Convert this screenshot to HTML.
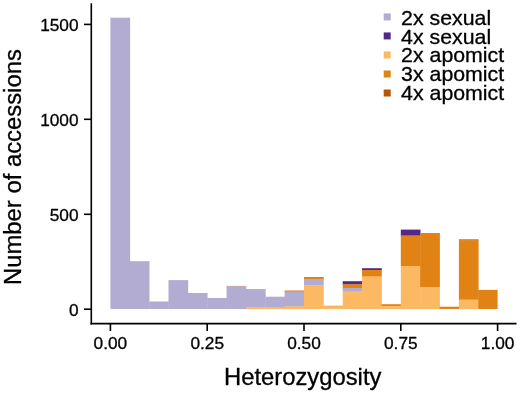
<!DOCTYPE html>
<html><head><meta charset="utf-8"><title>Heterozygosity histogram</title>
<style>
html,body{margin:0;padding:0;background:#fff;}
body{width:520px;height:393px;overflow:hidden;}
svg{display:block;font-family:"Liberation Sans",sans-serif;fill:#000;}
text{stroke:#000;stroke-width:0.3px;}
.tick text{font-size:17.3px;}
.title{font-size:23.7px;}
.legend text{font-size:20.4px;}
.ax line{stroke:#000;stroke-width:1.6;}
</style></head>
<body>
<svg width="520" height="393" viewBox="0 0 520 393">
<rect width="520" height="393" fill="#ffffff"/>
<g class="bars" shape-rendering="auto">
<rect x="110.40" y="17.70" width="19.71" height="291.30" fill="#b2abd2"/>
<rect x="129.76" y="261.20" width="19.71" height="47.80" fill="#b2abd2"/>
<rect x="149.12" y="301.50" width="19.71" height="7.50" fill="#b2abd2"/>
<rect x="168.48" y="280.10" width="19.71" height="28.90" fill="#b2abd2"/>
<rect x="187.84" y="293.00" width="19.71" height="16.00" fill="#b2abd2"/>
<rect x="207.20" y="298.00" width="19.71" height="11.00" fill="#b2abd2"/>
<rect x="226.56" y="285.90" width="19.71" height="0.70" fill="#e08214"/>
<rect x="226.56" y="286.30" width="19.71" height="22.70" fill="#b2abd2"/>
<rect x="245.92" y="289.00" width="19.71" height="0.60" fill="#e08214"/>
<rect x="245.92" y="289.30" width="19.71" height="18.10" fill="#b2abd2"/>
<rect x="245.92" y="307.10" width="19.71" height="1.90" fill="#fdb863"/>
<rect x="265.28" y="296.70" width="19.71" height="10.60" fill="#b2abd2"/>
<rect x="265.28" y="307.00" width="19.71" height="2.00" fill="#fdb863"/>
<rect x="284.64" y="290.50" width="19.71" height="1.40" fill="#e08214"/>
<rect x="284.64" y="291.60" width="19.71" height="15.10" fill="#b2abd2"/>
<rect x="284.64" y="306.40" width="19.71" height="2.60" fill="#fdb863"/>
<rect x="304.00" y="277.00" width="19.71" height="2.60" fill="#e08214"/>
<rect x="304.00" y="279.30" width="19.71" height="6.30" fill="#b2abd2"/>
<rect x="304.00" y="285.30" width="19.71" height="23.70" fill="#fdb863"/>
<rect x="323.36" y="305.80" width="19.71" height="0.90" fill="#e08214"/>
<rect x="323.36" y="306.40" width="19.71" height="2.60" fill="#fdb863"/>
<rect x="342.72" y="281.20" width="19.71" height="3.30" fill="#542788"/>
<rect x="342.72" y="284.20" width="19.71" height="4.10" fill="#e08214"/>
<rect x="342.72" y="288.00" width="19.71" height="3.80" fill="#b2abd2"/>
<rect x="342.72" y="291.50" width="19.71" height="17.50" fill="#fdb863"/>
<rect x="362.08" y="268.20" width="19.71" height="2.10" fill="#542788"/>
<rect x="362.08" y="270.00" width="19.71" height="6.80" fill="#e08214"/>
<rect x="362.08" y="276.50" width="19.71" height="32.50" fill="#fdb863"/>
<rect x="381.44" y="304.20" width="19.71" height="2.10" fill="#e08214"/>
<rect x="381.44" y="306.00" width="19.71" height="3.00" fill="#fdb863"/>
<rect x="400.80" y="229.60" width="19.71" height="6.20" fill="#542788"/>
<rect x="400.80" y="235.50" width="19.71" height="30.80" fill="#e08214"/>
<rect x="400.80" y="266.00" width="19.71" height="43.00" fill="#fdb863"/>
<rect x="420.16" y="233.00" width="19.71" height="54.30" fill="#e08214"/>
<rect x="420.16" y="287.00" width="19.71" height="22.00" fill="#fdb863"/>
<rect x="439.52" y="306.70" width="19.71" height="2.30" fill="#e08214"/>
<rect x="458.88" y="239.40" width="19.71" height="1.20" fill="#b35806"/>
<rect x="458.88" y="240.30" width="19.71" height="59.60" fill="#e08214"/>
<rect x="458.88" y="299.60" width="19.71" height="9.40" fill="#fdb863"/>
<rect x="478.24" y="289.90" width="19.36" height="19.10" fill="#e08214"/>
</g>
<g class="ax">
<line x1="91.3" y1="3.3" x2="91.3" y2="324.4"/>
<line x1="90.5" y1="323.6" x2="516.5" y2="323.6"/>
<line x1="84" y1="309.2" x2="91.3" y2="309.2"/>
<line x1="84" y1="214.3" x2="91.3" y2="214.3"/>
<line x1="84" y1="119.3" x2="91.3" y2="119.3"/>
<line x1="84" y1="24.4" x2="91.3" y2="24.4"/>
<line x1="110.4" y1="323.6" x2="110.4" y2="331"/>
<line x1="207.2" y1="323.6" x2="207.2" y2="331"/>
<line x1="304.0" y1="323.6" x2="304.0" y2="331"/>
<line x1="400.8" y1="323.6" x2="400.8" y2="331"/>
<line x1="497.6" y1="323.6" x2="497.6" y2="331"/>
</g>
<g class="tick">
<text x="78.6" y="315.9" text-anchor="end">0</text>
<text x="78.6" y="221.0" text-anchor="end">500</text>
<text x="78.6" y="126.0" text-anchor="end">1000</text>
<text x="78.6" y="31.1" text-anchor="end">1500</text>
<text x="110.4" y="349.4" text-anchor="middle">0.00</text>
<text x="207.2" y="349.4" text-anchor="middle">0.25</text>
<text x="304.0" y="349.4" text-anchor="middle">0.50</text>
<text x="400.8" y="349.4" text-anchor="middle">0.75</text>
<text x="497.6" y="349.4" text-anchor="middle">1.00</text>
</g>
<g class="legend">
<rect x="383.7" y="13.40" width="7" height="7" fill="#b2abd2"/>
<text transform="translate(401.1,24.60) scale(1.045,1)">2x sexual</text>
<rect x="383.7" y="32.43" width="7" height="7" fill="#542788"/>
<text transform="translate(401.1,43.53) scale(1.045,1)">4x sexual</text>
<rect x="383.7" y="51.46" width="7" height="7" fill="#fdb863"/>
<text transform="translate(401.1,62.46) scale(1.045,1)">2x apomict</text>
<rect x="383.7" y="70.49" width="7" height="7" fill="#e08214"/>
<text transform="translate(401.1,81.39) scale(1.045,1)">3x apomict</text>
<rect x="383.7" y="89.52" width="7" height="7" fill="#b35806"/>
<text transform="translate(401.1,100.32) scale(1.045,1)">4x apomict</text>
</g>
<text class="title" style="font-size:23.8px" x="302.7" y="384.9" text-anchor="middle">Heterozygosity</text>
<text class="title" style="font-size:23.85px" transform="translate(21.2,167.1) rotate(-90)" text-anchor="middle">Number of accessions</text>
</svg>
</body></html>
